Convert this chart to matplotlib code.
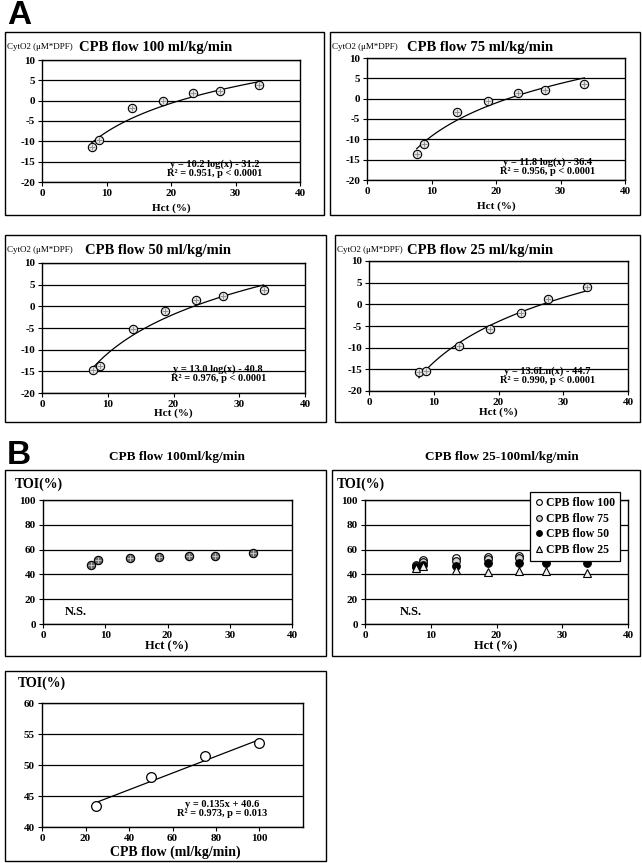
import matplotlib
matplotlib.use("Agg")
import matplotlib.pyplot as plt
from matplotlib.patches import Rectangle
import numpy as np

W, H = 642, 863

plt.rcParams["font.family"] = ["Liberation Serif", "DejaVu Serif"]
plt.rcParams["font.weight"] = "bold"
plt.rcParams["axes.unicode_minus"] = False

# Hct (%) at each measurement step
hct = [7.7, 8.8, 13.9, 18.7, 23.4, 27.6, 33.7]

# CytO2 (uM*DPF) per CPB flow
cyto2_100 = [-11.4, -9.6, -1.9, -0.1, 1.8, 2.4, 3.8]
cyto2_75 = [-13.7, -11.2, -3.3, -0.6, 1.5, 2.2, 3.5]
cyto2_50 = [-14.6, -13.7, -5.2, -1.1, 1.5, 2.3, 3.8]
cyto2_25 = [-15.7, -15.5, -9.7, -5.7, -1.9, 1.3, 4.0]

# log trendlines as printed (slope, intercept)
fit_100 = (10.2, -31.2)
fit_75 = (11.8, -36.4)
fit_50 = (13.0, -40.8)
fit_25 = (13.6, -44.7)

eq_100 = "y = 10.2 log(x) - 31.2\nR² = 0.951, p < 0.0001"
eq_75 = "y = 11.8 log(x) - 36.4\nR² = 0.956, p < 0.0001"
eq_50 = "y = 13.0 log(x) - 40.8\nR² = 0.976, p < 0.0001"
eq_25 = "y = 13.6Ln(x) - 44.7\nR² = 0.990, p < 0.0001"

# TOI (%) per CPB flow
toi_100 = [47.6, 51.6, 53.5, 54.3, 54.8, 54.8, 57.5]
toi_75 = [46.5, 50.0, 51.0, 52.5, 53.5, 53.0, 54.0]
toi_50 = [46.0, 47.5, 47.0, 49.0, 49.5, 49.0, 49.0]
toi_25 = [45.5, 46.5, 43.5, 42.0, 43.0, 42.5, 41.5]

# mean TOI vs CPB flow
flow = [25, 50, 75, 100]
toi_mean = [43.4, 48.0, 51.5, 53.6]
lin_fit = (0.135, 40.6)

fig = plt.figure(figsize=(W / 100, H / 100), dpi=100)


def px_axes(x0, y0, x1, y1):
    return fig.add_axes([x0 / W, 1 - y1 / H, (x1 - x0) / W, (y1 - y0) / H])


def px_text(x, y, s, **kw):
    kw.setdefault("va", "center")
    fig.text(x / W, 1 - y / H, s, **kw)


def px_box(x0, y0, x1, y1):
    fig.add_artist(Rectangle((x0 / W, 1 - y1 / H), (x1 - x0) / W, (y1 - y0) / H,
                             transform=fig.transFigure, fill=False, lw=1, ec="black"))


def style(ax, xticks, xlim, yticks):
    ax.set_xlim(*xlim)
    ax.set_xticks(xticks)
    ax.set_ylim(yticks[0], yticks[-1])
    ax.set_yticks(yticks)
    ax.yaxis.grid(True, color="black", lw=0.9)
    ax.set_axisbelow(True)
    for s in ax.spines.values():
        s.set_linewidth(1)
    ax.tick_params(labelsize=8, length=3, width=0.8, pad=2)


def cyto_panel(box, axpos, ys, fit, eq, title, title_x, eq_pos, xlab_gap):
    px_box(*box)
    ax = px_axes(*axpos)
    style(ax, [0, 10, 20, 30, 40], (0, 40), [-20, -15, -10, -5, 0, 5, 10])
    xs = np.linspace(min(hct), max(hct), 100)
    ax.plot(xs, fit[0] * np.log(xs) + fit[1], color="black", lw=0.9, zorder=2)
    ax.plot(hct, ys, "o", ms=6, mfc="#e4e4e4", mec="black", mew=0.8, zorder=3)
    ax.plot(hct, ys, "+", ms=4, color="#888888", mew=0.6, zorder=4)
    ax.text(eq_pos[0], eq_pos[1], eq, transform=ax.transAxes, ha="center",
            va="center", fontsize=7.5, linespacing=0.95)
    px_text(box[0] + 2, box[1] + 15, "CytO2 (μM*DPF)", fontsize=6.5, fontweight="normal")
    px_text(title_x, box[1] + 15, title, fontsize=10.5)
    px_text((axpos[0] + axpos[2]) / 2, axpos[3] + xlab_gap, "Hct (%)", ha="center",
            fontsize=8)
    return ax


px_text(7, 16, "A", fontsize=24, family="Liberation Sans", fontweight="bold")

cyto_panel((5, 32, 324, 215), (42, 60, 300, 182), cyto2_100, fit_100, eq_100,
           "CPB flow 100 ml/kg/min", 79, (0.67, 0.11), 26)
cyto_panel((330, 32, 640, 215), (367, 58, 625, 180), cyto2_75, fit_75, eq_75,
           "CPB flow 75 ml/kg/min", 407, (0.70, 0.11), 26)
cyto_panel((5, 235, 326, 422), (42, 263, 305, 393), cyto2_50, fit_50, eq_50,
           "CPB flow 50 ml/kg/min", 85, (0.67, 0.15), 20)
cyto_panel((335, 235, 640, 422), (369, 261, 628, 391), cyto2_25, fit_25, eq_25,
           "CPB flow 25 ml/kg/min", 407, (0.69, 0.12), 21)

px_text(7, 456, "B", fontsize=24, family="Liberation Sans", fontweight="bold")

# B left: TOI at CPB flow 100
px_box(5, 470, 326, 656)
ax = px_axes(43, 500, 292, 624)
style(ax, [0, 10, 20, 30, 40], (0, 40), [0, 20, 40, 60, 80, 100])
ax.plot(hct, toi_100, "o", ms=6, mfc="#6e6e6e", mec="black", mew=0.8, zorder=3)
ax.plot(hct, toi_100, "+", ms=4, color="#cfcfcf", mew=0.6, zorder=4)
ax.text(3.5, 10, "N.S.", fontsize=9, va="center")
px_text(177, 457, "CPB flow 100ml/kg/min", ha="center", fontsize=9.5)
px_text(15, 484, "TOI(%)", fontsize=10)
px_text(167, 646, "Hct (%)", ha="center", fontsize=9)

# B right: TOI at all flows
px_box(332, 470, 640, 656)
ax = px_axes(365, 500, 628, 624)
style(ax, [0, 10, 20, 30, 40], (0, 40), [0, 20, 40, 60, 80, 100])
ax.plot(hct, toi_100, "o", ms=5.5, mfc="white", mec="black", mew=0.8, zorder=3,
        label="CPB flow 100")
ax.plot(hct, toi_75, "o", ms=5.5, mfc="#d0d0d0", mec="black", mew=0.8, zorder=4,
        label="CPB flow 75")
ax.plot(hct, toi_50, "o", ms=5.5, mfc="black", mec="black", mew=0.8, zorder=5,
        label="CPB flow 50")
ax.plot(hct, toi_25, "^", ms=6, mfc="#f0f0f0", mec="black", mew=0.8, zorder=6,
        label="CPB flow 25")
ax.text(5.3, 10, "N.S.", fontsize=9, va="center")
leg = ax.legend(loc="upper right", bbox_to_anchor=(626 / W, 1 - 486 / H),
                bbox_transform=fig.transFigure, fontsize=8.5, frameon=True,
                fancybox=False, edgecolor="black", framealpha=1,
                handlelength=0.6, handletextpad=0.3, labelspacing=0.3,
                borderpad=0.45, markerscale=0.75)
leg.get_frame().set_linewidth(0.9)
px_text(502, 457, "CPB flow 25-100ml/kg/min", ha="center", fontsize=9.5)
px_text(337, 484, "TOI(%)", fontsize=10)
px_text(496, 646, "Hct (%)", ha="center", fontsize=9)

# bottom: mean TOI vs CPB flow
px_box(5, 671, 326, 861)
ax = px_axes(42, 703, 303, 827)
style(ax, [0, 20, 40, 60, 80, 100], (0, 120), [40, 45, 50, 55, 60])
xs = np.array([flow[0], flow[-1]])
ax.plot(xs, lin_fit[0] * xs + lin_fit[1], color="black", lw=0.9, zorder=2)
ax.plot(flow, toi_mean, "o", ms=7, mfc="white", mec="black", mew=0.9, zorder=3)
ax.text(0.69, 0.145, "y = 0.135x + 40.6\nR² = 0.973, p = 0.013", transform=ax.transAxes,
        ha="center", va="center", fontsize=7.5, linespacing=0.95)
px_text(18, 683, "TOI(%)", fontsize=10)
px_text(175, 852, "CPB flow (ml/kg/min)", ha="center", fontsize=10)

fig.savefig("out.png", dpi=100)
